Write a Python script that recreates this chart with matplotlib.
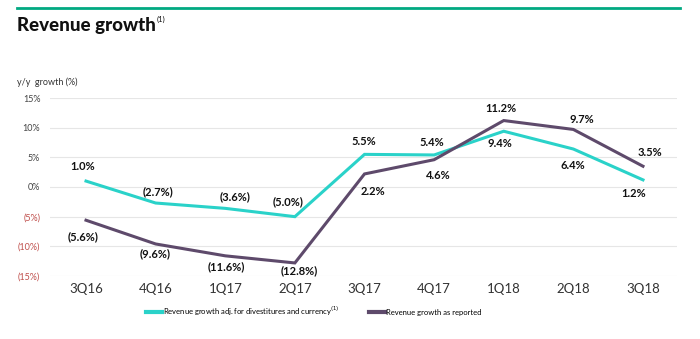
import matplotlib.pyplot as plt
from matplotlib.lines import Line2D

quarters = ['3Q16', '4Q16', '1Q17', '2Q17', '3Q17', '4Q17', '1Q18', '2Q18', '3Q18']
adj_growth = [1.0, -2.7, -3.6, -5.0, 5.5, 5.4, 9.4, 6.4, 1.2]
reported_growth = [-5.6, -9.6, -11.6, -12.8, 2.2, 4.6, 11.2, 9.7, 3.5]
yticks = [15, 10, 5, 0, -5, -10, -15]

# hand-placed label offsets in pixels (dx right, dy down) from each point
adj_offsets = [(-3, -15), (2, -11), (10, -12), (-7, -15), (-1, -13),
               (-2, -12), (-4, 12), (-1, 16), (-9, 14)]
rep_offsets = [(-3, 16), (-1, 10), (1, 11), (4, 8), (8, 18),
               (4, 16), (-3, -12), (8, -10), (7, -14)]

teal = '#2ad2c9'
purple = '#5e4a6b'
neg_red = '#c0504d'
PX = 0.72  # points per pixel at 100 dpi

plt.rcParams['font.family'] = ['Lato', 'DejaVu Sans']

fig = plt.figure(figsize=(7, 3.39), dpi=100)
ax = fig.add_axes([50 / 700, 1 - 276 / 339, 627 / 700, 178 / 339])

x = list(range(len(quarters)))
ax.plot(x, adj_growth, color=teal, lw=2.2, solid_joinstyle='miter')
ax.plot(x, reported_growth, color=purple, lw=2.2, solid_joinstyle='miter')


def fmt(v):
    return f'({abs(v):.1f}%)' if v < 0 else f'{v:.1f}%'


for series, offsets in ((adj_growth, adj_offsets), (reported_growth, rep_offsets)):
    for i, (v, (dx, dy)) in enumerate(zip(series, offsets)):
        ax.annotate(fmt(v), (i, v), xytext=(dx * PX, -dy * PX), textcoords='offset points',
                    ha='center', va='center', fontsize=8, fontweight='bold', color='#111111')

ax.set_xlim(-36 / 69.6, 8 + 34 / 69.6)
ax.set_ylim(-15, 15)
ax.set_yticks(yticks)
ax.set_yticklabels([fmt(v).replace('.0', '') for v in yticks], fontsize=6.5)
for lbl, v in zip(ax.get_yticklabels(), yticks):
    lbl.set_color(neg_red if v < 0 else '#444444')
ax.set_xticks(x)
ax.set_xticklabels(quarters, fontsize=9.5, color='#333333')
ax.tick_params(length=0, axis='y', pad=7)
ax.tick_params(length=0, axis='x', pad=5)
ax.grid(axis='y', color='#e6e6e6', lw=0.8)
for sp in ax.spines.values():
    sp.set_visible(False)

# header rule and titles
fig.add_artist(Line2D([17 / 700, 680 / 700], [1 - 8 / 339, 1 - 8 / 339], color='#01a982', lw=2))
fig.text(17 / 700, 1 - 26 / 339, 'Revenue growth', fontsize=13.5, fontweight='black',
         va='center', ha='left', color='#111111')
fig.text(156.5 / 700, 1 - 19 / 339, '(1)', fontsize=5.5, va='center', ha='left', color='#111111')
fig.text(17 / 700, 1 - 82 / 339, 'y/y  growth (%)', fontsize=6.5, va='center', ha='left', color='#333333')

# legend
handles = [Line2D([], [], color=teal, lw=3),
           Line2D([], [], color=purple, lw=3)]
fig.legend(handles, ['Revenue growth adj. for divestitures and currency$^{(1)}$',
                     'Revenue growth as reported'],
           loc='center', bbox_to_anchor=(314 / 700, 1 - 311 / 339), ncol=2, frameon=False,
           fontsize=5.5, handlelength=2.1, handletextpad=0.1, columnspacing=3.9,
           borderpad=0, borderaxespad=0)

fig.savefig('out.png', dpi=100)
